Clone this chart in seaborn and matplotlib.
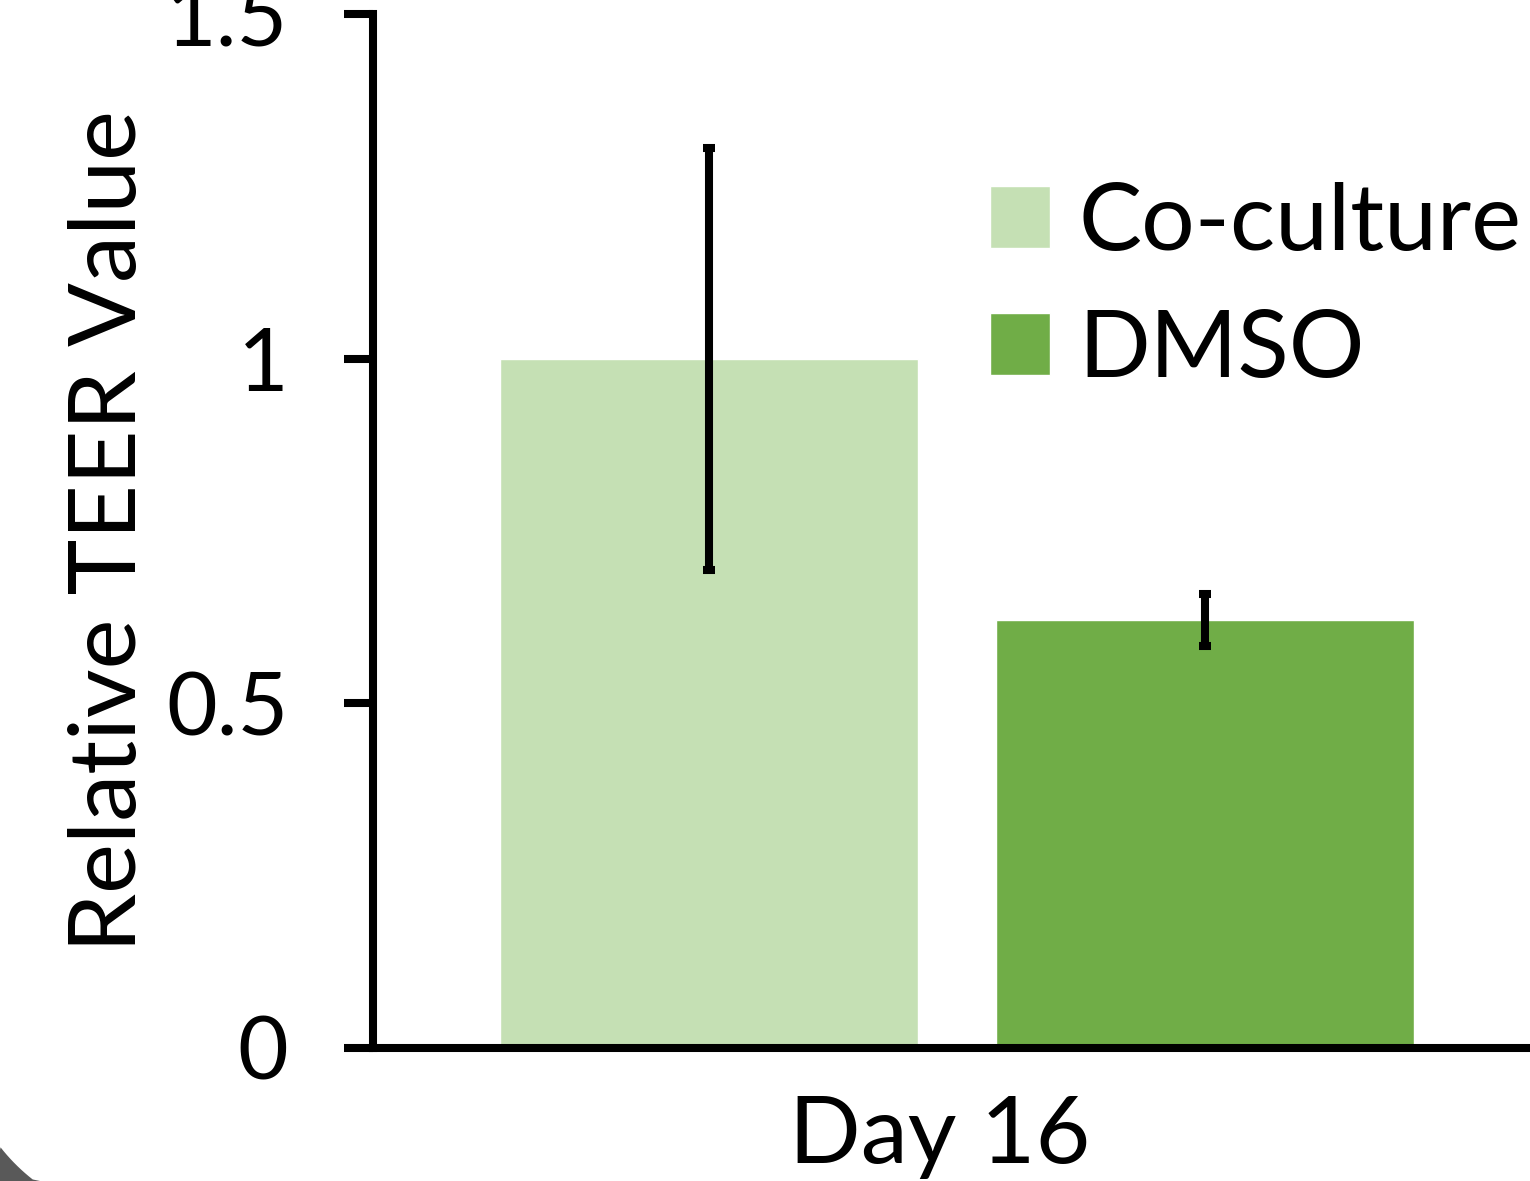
"""
Relative TEER value at day 16, co-culture vs DMSO.
"""

import numpy as np
import pandas as pd
import matplotlib
matplotlib.use("Agg")
import matplotlib.pyplot as plt
import matplotlib.transforms as mtransforms
import seaborn as sns
from matplotlib.patches import Polygon

# data
days = ["Day 16"]
groups = ["Co-culture", "DMSO"]
values = [1.0, 0.621]
errors = [0.306, 0.038]
colors = ["#C5E0B4", "#70AD47"]
y_ticks = [0, 0.5, 1, 1.5]
y_tick_labels = ["0", "0.5", "1", "1.5"]

df = pd.DataFrame({"day": days * len(groups), "group": groups, "value": values})

sns.set_style("white")
plt.rcParams["font.family"] = ["Lato", "DejaVu Sans"]
plt.rcParams["text.color"] = "black"
plt.rcParams["axes.labelcolor"] = "black"
plt.rcParams["xtick.color"] = "black"
plt.rcParams["ytick.color"] = "black"

fig = plt.figure(figsize=(15.3, 11.81), dpi=100)
ax = fig.add_axes([373 / 1530, 1 - 1048 / 1181, 1 - 373 / 1530, (1048 - 14) / 1181])

sns.barplot(data=df, x="day", y="value", hue="group", hue_order=groups,
            palette=colors, width=0.8, gap=0.157, errorbar=None,
            saturation=1, ax=ax)

# error bars on top of each bar
for bar, err in zip(ax.patches[:len(groups)], errors):
    cx = bar.get_x() + bar.get_width() / 2
    ax.errorbar(cx, bar.get_height(), yerr=err, fmt="none", ecolor="black",
                elinewidth=5.8, capsize=4.3, capthick=5.8, zorder=5)

ax.set_xlim(-0.471, 0.462)
ax.set_ylim(0, 1.5)
ax.set_yticks(y_ticks)
ax.set_yticklabels(y_tick_labels)
ax.set_xlabel("")
ax.set_ylabel("Relative TEER Value", fontsize=68, labelpad=10)

sns.despine(ax=ax, top=True, right=True)
for side in ["left", "bottom"]:
    ax.spines[side].set_linewidth(5.8)
    ax.spines[side].set_color("black")
ax.tick_params(axis="y", length=21, width=5.8, pad=40, labelsize=63,
               direction="out", left=True)
ax.tick_params(axis="x", length=0, pad=34, labelsize=68)

# "Day 16" sits a little left of the bar-pair centre in the reference
shift = mtransforms.ScaledTranslation(-0.17, 0, fig.dpi_scale_trans)
for lab in ax.get_xticklabels():
    lab.set_transform(lab.get_transform() + shift)

leg = ax.legend(loc="upper left", bbox_to_anchor=(990 / 1530, 1 - 182 / 1181),
                bbox_transform=fig.transFigure, frameon=False, fontsize=68,
                handlelength=0.64, handleheight=0.64, handletextpad=0.3,
                labelspacing=0.46, borderpad=0, borderaxespad=0)

# grey rounded corner at bottom left of the crop
theta = np.linspace(np.pi, 1.5 * np.pi, 60)
r = 190
px = (150 + r * np.cos(theta)) / 1530
py = (151 + r * np.sin(theta)) / 1181
pts = [(x, y) for x, y in zip(px, py) if x >= 0 and y >= 0]
pts = [(0, 31 / 1181)] + pts + [(40 / 1530, 0), (0, 0)]
fig.patches.append(Polygon(pts, closed=True, transform=fig.transFigure,
                           facecolor="#595959", edgecolor="none", zorder=-1))

fig.savefig("out.png", dpi=100)
